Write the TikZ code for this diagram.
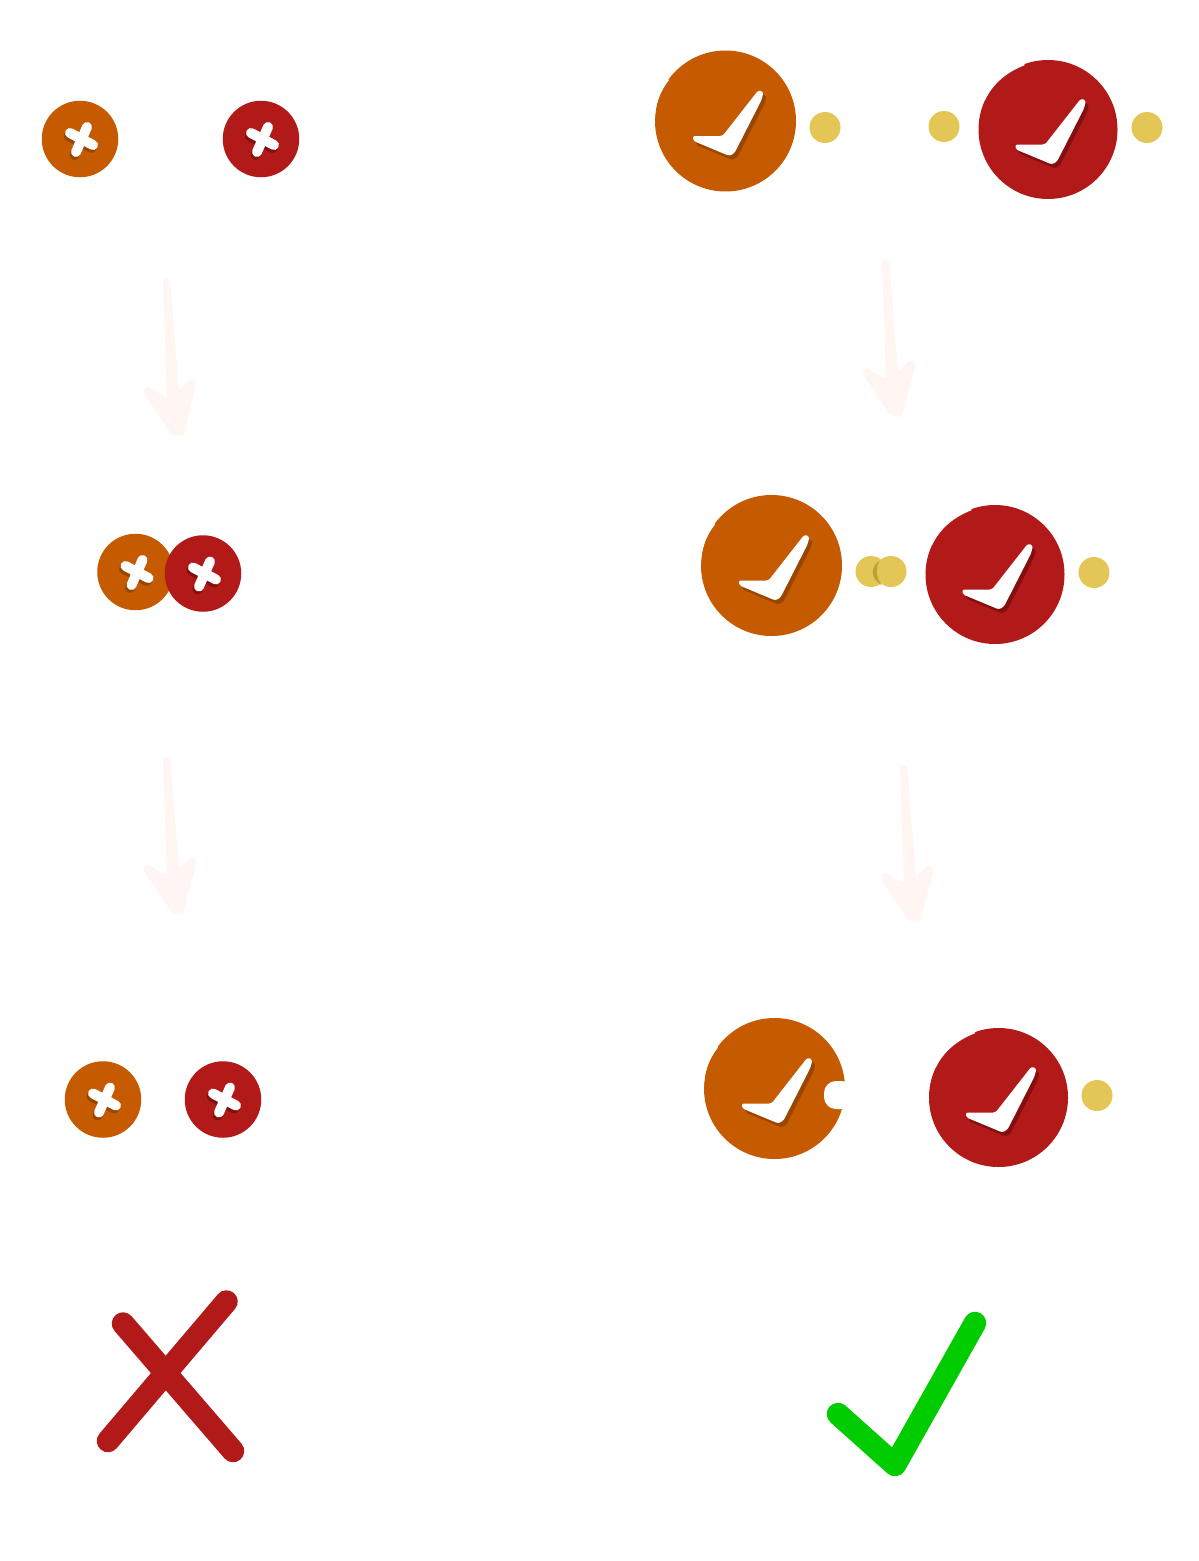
\documentclass[tikz,border=0pt]{standalone}
\definecolor{cOrange}{HTML}{C55A00}
\definecolor{cOrangeS}{HTML}{994600}
\definecolor{cRed}{HTML}{B21A1A}
\definecolor{cRedS}{HTML}{850E0E}
\definecolor{cYellow}{HTML}{E3C655}
\definecolor{cCrescent}{HTML}{BFA035}
\definecolor{cArrow}{HTML}{FFF5F3}
\definecolor{cGreen}{HTML}{00CC00}
\tikzset{
  bigdisc/.style={circle,inner sep=0pt,minimum size=141pt,fill=cOrange},
  reddisc/.style={circle,inner sep=0pt,minimum size=139pt,fill=cRed},
  smalldisc/.style={circle,inner sep=0pt,minimum size=76.5pt,fill=#1},
  electron/.style={circle,inner sep=0pt,minimum size=31pt,fill=cYellow},
  soft corners/.style={rounded corners=#1},
  verdict/.style={line width=22.5pt,line cap=round,line join=round}
}
\newcommand{\checkshape}{(33,-31) -- (38,-29) -- (36,-21) -- (9,32) -- (4,35) -- (-32,20) -- (-33,15) -- (-3,15) -- cycle}
\newcommand{\checkglyph}[3]{%
  \begin{scope}[shift={(#1,#2)}]
    \fill[#3,soft corners=2.5pt,shift={(3,4)}] \checkshape;
    \fill[white,soft corners=2.5pt] \checkshape;
  \end{scope}}
\newcommand{\crossglyph}[3]{%
  \begin{scope}[shift={(#1,#2)}]
    \draw[line width=10pt,line cap=round,#3,shift={(-1.5,3)}] (-10,-6) -- (13,6) (7,-12) -- (-4,13);
    \draw[line width=10pt,line cap=round,white] (-10,-6) -- (13,6) (7,-12) -- (-4,13);
  \end{scope}}
\newcommand{\faintarrow}[2]{%
  \fill[cArrow,soft corners=3pt,shift={(#1,#2)}] (163,279) -- (170,279) -- (179,391) -- (191,379) -- (197,382) -- (183,436) -- (172,435) -- (143,392) -- (147,386) -- (167,398) -- cycle;}
\newcommand{\rednick}[2]{%
  \fill[white,shift={(#1,#2)}] (-110:68.4) -- (-110:80) -- (-132:88) -- (-155:80) -- (-155:69.5) .. controls (-140:71.9) and (-125:70.6) .. (-110:68.4) -- cycle;}
\newcommand{\orangenick}[2]{%
  \fill[white,shift={(#1,#2)}] (-144:69.8) -- (-144:80) -- (-161:88) -- (-178:80) -- (-178:70.5) .. controls (-167:72.6) and (-155:71.8) .. (-144:69.8) -- cycle;}
\begin{document}
\begin{tikzpicture}[x=1pt,y=-1pt]
\useasboundingbox (0,0) rectangle (1199,1561);
\fill[white] (0,0) rectangle (1199,1561);

% arrows
\faintarrow{0}{0}
\faintarrow{0}{478}
\faintarrow{719}{-19}
\faintarrow{737}{486}

% left column
\node[smalldisc=cOrange] (xo1) at (80,139) {};
\crossglyph{80}{139}{cOrangeS}
\node[smalldisc=cRed] (xr1) at (261,139) {};
\crossglyph{261}{139}{cRedS}
\node[smalldisc=cOrange] (xo2) at (135.5,572) {};
\crossglyph{135.5}{572}{cOrangeS}
\node[smalldisc=cRed] (xr2) at (203,573.5) {};
\crossglyph{203}{573.5}{cRedS}
\node[smalldisc=cOrange] (xo3) at (103,1099.5) {};
\crossglyph{103}{1099.5}{cOrangeS}
\node[smalldisc=cRed] (xr3) at (223,1099.5) {};
\crossglyph{223}{1099.5}{cRedS}

% right column, top row
\node[bigdisc] (co1) at (725.5,121) {};
\orangenick{725.5}{121}
\checkglyph{725.5}{121}{cOrangeS}
\node[electron] (e1) at (825,127.5) {};
\node[electron] (e2) at (944,126.5) {};
\node[reddisc] (cr1) at (1048,129.5) {};
\rednick{1048}{129.5}
\checkglyph{1048}{129.5}{cRedS}
\node[electron] (e3) at (1147,127.5) {};

% right column, middle row
\node[bigdisc] (co2) at (771.5,565.5) {};
\orangenick{771.5}{565.5}
\checkglyph{771.5}{565.5}{cOrangeS}
\node[electron] (e4) at (871,571.5) {};
\node[electron] (e5) at (891,571.5) {};
\fill[cCrescent] (880,560.5) .. controls (870,567) and (870,578) .. (882,585.5) .. controls (876,578) and (875,568) .. (880,560.5) -- cycle;
\node[reddisc] (cr2) at (995,574.5) {};
\rednick{995}{574.5}
\checkglyph{995}{574.5}{cRedS}
\node[electron] (e6) at (1094,572.5) {};

% right column, lower row
\node[bigdisc] (co3) at (774.5,1088.5) {};
\orangenick{774.5}{1088.5}
\checkglyph{774.5}{1088.5}{cOrangeS}
\fill[white,rounded corners=12pt] (824,1081) rectangle (854,1109);
\node[reddisc] (cr3) at (998.5,1097.5) {};
\rednick{998.5}{1097.5}
\checkglyph{998.5}{1097.5}{cRedS}
\node[electron] (e7) at (1097,1095.5) {};

% verdicts
\draw[verdict,cRed] (123,1323.5) -- (233,1451) (226.5,1301.5) -- (108,1441);
\draw[verdict,cGreen] (838,1414) -- (895,1465) -- (975,1323);
\end{tikzpicture}
\end{document}
